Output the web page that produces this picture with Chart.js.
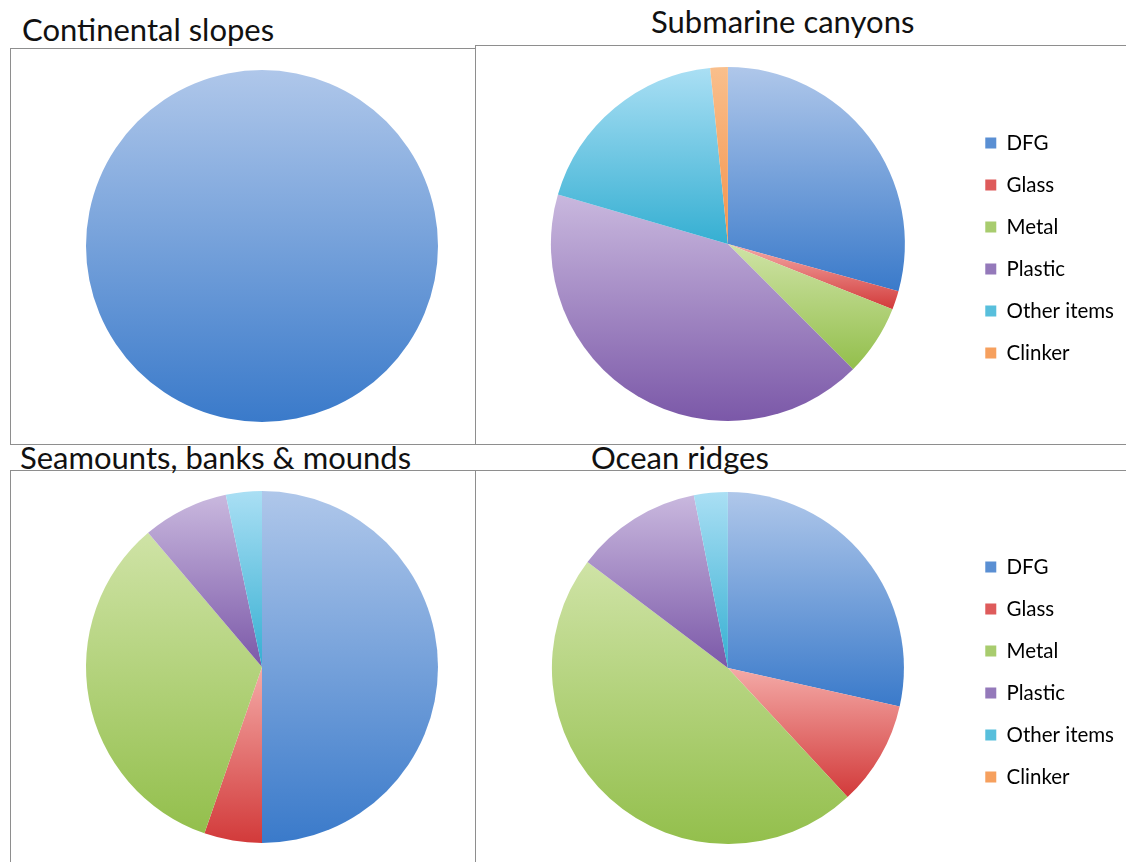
<!DOCTYPE html>
<html>
<head>
<meta charset="utf-8">
<script src="https://cdn.jsdelivr.net/npm/chart.js@4.4.0/dist/chart.umd.min.js"></script>
<style>
  body { margin: 0; width: 1126px; height: 862px; overflow: hidden; background: #fff; position: relative; font-family: Lato, sans-serif; }
  .panel { position: absolute; border: 1px solid #8e8e8e; box-sizing: border-box; }
  .title { position: absolute; font-size: 31px; color: #111; white-space: nowrap; line-height: 30px; }
  canvas { position: absolute; }
</style>
</head>
<body>
<div class="panel" style="left:10px;top:48px;width:466px;height:397px;"></div>
<div class="panel" style="left:475px;top:45px;width:700px;height:400px;"></div>
<div class="panel" style="left:10px;top:470px;width:466px;height:420px;"></div>
<div class="panel" style="left:475px;top:470px;width:700px;height:420px;"></div>

<div class="title" style="left:22px;top:14px;">Continental slopes</div>
<div class="title" style="left:651px;top:6px;">Submarine canyons</div>
<div class="title" style="left:20px;top:442px;">Seamounts, banks &amp; mounds</div>
<div class="title" style="left:591px;top:442px;">Ocean ridges</div>

<canvas id="continental" width="400" height="400" style="left:62px;top:46px;"></canvas>
<canvas id="canyons" width="650" height="392" style="left:476px;top:48px;"></canvas>
<canvas id="seamounts" width="400" height="400" style="left:62px;top:467px;"></canvas>
<canvas id="ridges" width="650" height="392" style="left:476px;top:472px;"></canvas>

<script>
const categories = ['DFG', 'Glass', 'Metal', 'Plastic', 'Other items', 'Clinker'];

const continentalSlopes = [100, 0, 0, 0, 0, 0];
const submarineCanyons = [29.3, 1.7, 6.5, 42.0, 18.9, 1.6];
const seamountsBanks = [50.0, 5.3, 33.5, 7.9, 3.3, 0];
const oceanRidges = [28.5, 9.6, 47.2, 11.6, 3.1, 0];

// light tone at the top of each slice, deep tone at its bottom
const topColors = ['#afc7ea', '#f4aaa7', '#cfe3a6', '#c9b8de', '#aadff4', '#f9bf8c'];
const bottomColors = ['#3a7aca', '#d23a3a', '#93bf4c', '#7b58a8', '#35afd2', '#f4924a'];
const legendColors = ['#5a8fd3', '#de5b5b', '#a8cc6e', '#9479ba', '#58bfdc', '#f6a05e'];

function sliceGradient(c) {
  const chart = c.chart;
  const area = chart.chartArea;
  const i = c.dataIndex;
  if (!area || c.type !== 'data') return legendColors[i];
  const data = chart.data.datasets[0].data;
  const total = data.reduce((a, b) => a + b, 0);
  let before = 0;
  for (let k = 0; k < i; k++) before += data[k];
  const a0 = -Math.PI / 2 + 2 * Math.PI * before / total;
  const a1 = a0 + 2 * Math.PI * data[i] / total;
  const cx = (area.left + area.right) / 2;
  const cy = (area.top + area.bottom) / 2;
  const r = Math.min(area.width, area.height) / 2;
  const ys = [cy, cy + r * Math.sin(a0), cy + r * Math.sin(a1)];
  [-Math.PI / 2, Math.PI / 2, 3 * Math.PI / 2].forEach(t => {
    if (t >= a0 && t <= a1) ys.push(cy + r * Math.sin(t));
  });
  const y0 = Math.min(...ys), y1 = Math.max(...ys);
  if (y1 - y0 < 1) return legendColors[i];
  const g = chart.ctx.createLinearGradient(cx, y0, cx, y1);
  g.addColorStop(0, topColors[i]);
  g.addColorStop(1, bottomColors[i]);
  return g;
}

function makePie(id, values, showLegend, padding) {
  return new Chart(document.getElementById(id), {
    type: 'pie',
    data: {
      labels: categories,
      datasets: [{ data: values, backgroundColor: sliceGradient, borderWidth: 0 }]
    },
    options: {
      responsive: false,
      animation: false,
      devicePixelRatio: 1,
      layout: { padding: padding },
      plugins: {
        tooltip: { enabled: false },
        legend: {
          display: showLegend,
          position: 'right',
          // empty title only nudges the items down a little
          title: { display: true, text: '', font: { size: 1 }, padding: { top: 0, bottom: 7 } },
          labels: {
            boxWidth: 11,
            boxHeight: 11,
            padding: 21.5,
            color: '#000',
            font: { family: 'Lato', size: 20.5 },
            generateLabels: () => categories.map((name, i) => ({
              text: name,
              fillStyle: legendColors[i],
              strokeStyle: legendColors[i],
              fontColor: '#000',
              lineWidth: 0,
              hidden: false,
              index: i
            }))
          }
        }
      }
    }
  });
}

makePie('continental', continentalSlopes, false, 24);
makePie('canyons', submarineCanyons, true, { top: 19, bottom: 19, left: 16, right: 2 });
makePie('seamounts', seamountsBanks, false, 24);
makePie('ridges', oceanRidges, true, { top: 20, bottom: 20, left: 16, right: 2 });
</script>
</body>
</html>
